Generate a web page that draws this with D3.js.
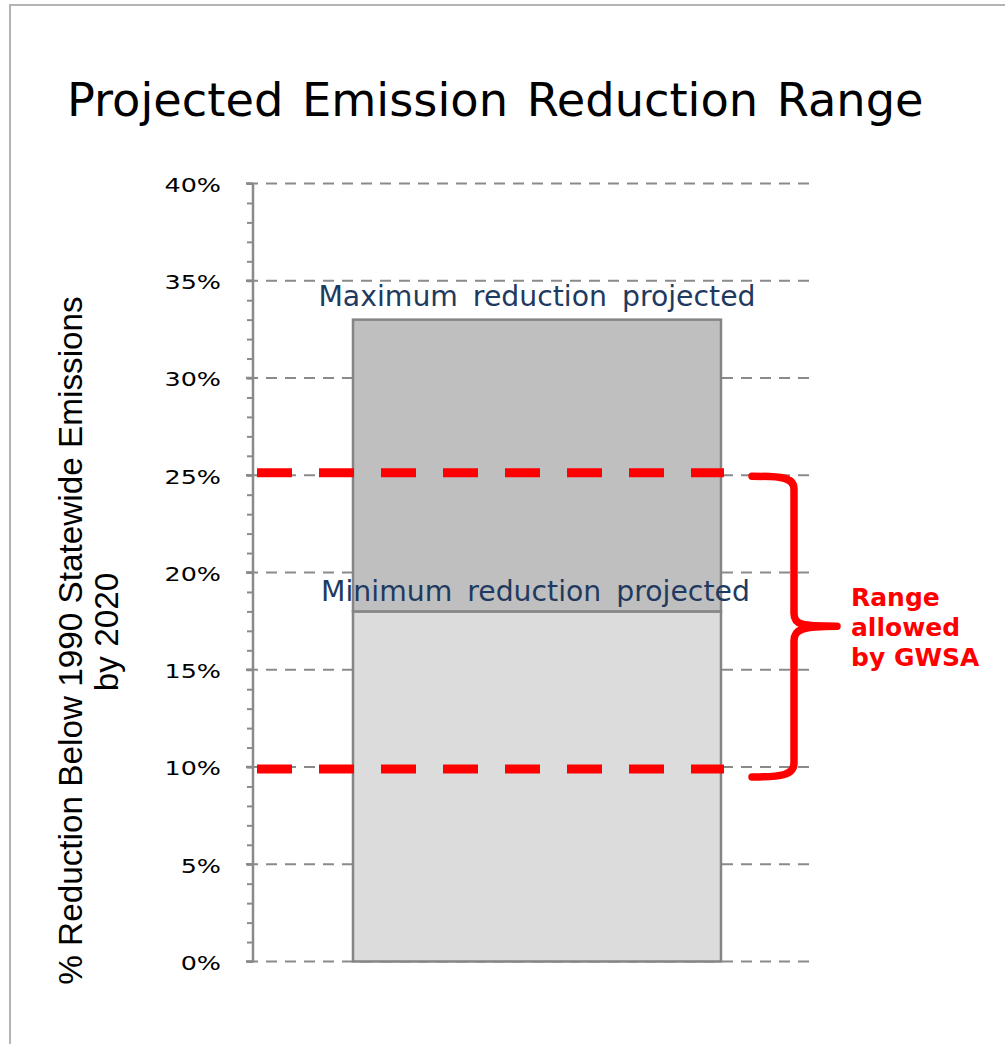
<!DOCTYPE html>
<html>
<head>
<meta charset="utf-8">
<script src="https://cdn.jsdelivr.net/npm/d3@7"></script>
<style>
  html, body { margin: 0; padding: 0; background: #fff; }
  svg { display: block; }
</style>
</head>
<body>
<script>
// ---- data ----
const category = ["2020"];
const minReduction = [18];   // % below 1990 levels, lower projection
const maxReduction = [33];   // % below 1990 levels, upper projection
const allowedRange = [10, 25]; // range allowed by GWSA
const tickValues = [0, 5, 10, 15, 20, 25, 30, 35, 40];
const tickLabels = ["0%", "5%", "10%", "15%", "20%", "25%", "30%", "35%", "40%"];
const barLabels = ["Minimum reduction projected", "Maximum reduction projected"];
const rangeLabel = ["Range", "allowed", "by GWSA"];
const titleText = "Projected Emission Reduction Range";
const yTitle = ["% Reduction Below 1990 Statewide Emissions", "by 2020"];

// ---- layout ----
const W = 1005, H = 1044;
const plot = { left: 253, right: 813, top: 183.5, bottom: 961.5 };

const svg = d3.select("body").append("svg")
  .attr("width", W).attr("height", H);

// outer frame
svg.append("rect")
  .attr("x", 10).attr("y", 5)
  .attr("width", W + 20).attr("height", H + 20)
  .attr("fill", "#fff")
  .attr("stroke", "#b4b4b4").attr("stroke-width", 2);

// title
svg.append("text")
  .attr("x", 67).attr("y", 116)
  .attr("font-family", "DejaVu Sans")
  .attr("font-size", 46.3)
  .attr("word-spacing", 4)
  .attr("fill", "#000")
  .text(titleText);

// scales
const y = d3.scaleLinear().domain([0, 40]).range([plot.bottom, plot.top]);
const x = d3.scaleBand().domain(category)
  .range([plot.left, plot.right])
  .paddingInner(0).paddingOuter(0.2609).align(0.5208);

// dashed gridlines
svg.append("g").selectAll("line")
  .data(tickValues)
  .join("line")
  .attr("x1", plot.left - 6).attr("x2", plot.right)
  .attr("y1", d => y(d)).attr("y2", d => y(d))
  .attr("stroke", "#8a8a8a").attr("stroke-width", 2)
  .attr("stroke-dasharray", "11,8");

// stacked bar: lower part (0 -> min), upper part (min -> max)
const segs = [
  { y0: 0, y1: minReduction[0], fill: "#dcdcdc" },
  { y0: minReduction[0], y1: maxReduction[0], fill: "#bfbfbf" }
];
svg.append("g").selectAll("rect")
  .data(segs)
  .join("rect")
  .attr("x", x(category[0]))
  .attr("width", x.bandwidth())
  .attr("y", d => y(d.y1))
  .attr("height", d => y(d.y0) - y(d.y1))
  .attr("fill", d => d.fill)
  .attr("stroke", "#858585").attr("stroke-width", 2.5);

// y axis with major and minor ticks
const axisG = svg.append("g").attr("transform", `translate(${plot.left},0)`);
axisG.call(d3.axisLeft(y).tickValues(d3.range(0, 41, 1)).tickSize(6).tickFormat(""))
  .call(g => g.select(".domain").remove())
  .call(g => g.selectAll(".tick line").attr("stroke", "#8a8a8a").attr("stroke-width", 2));
axisG.append("line")
  .attr("x1", 0).attr("x2", 0)
  .attr("y1", plot.top).attr("y2", plot.bottom + 1)
  .attr("stroke", "#8a8a8a").attr("stroke-width", 2.5);
axisG.append("g").selectAll("line")
  .data(tickValues)
  .join("line")
  .attr("x1", -7).attr("x2", 0)
  .attr("y1", d => y(d)).attr("y2", d => y(d))
  .attr("stroke", "#8a8a8a").attr("stroke-width", 2.5);

// tick labels (wide setting, stretched horizontally)
svg.append("g").selectAll("text")
  .data(tickValues)
  .join("text")
  .attr("transform", d => `translate(221,${y(d)}) scale(1.27,1)`)
  .attr("dy", "0.42em")
  .attr("text-anchor", "end")
  .attr("font-family", "DejaVu Sans")
  .attr("font-size", 20)
  .attr("fill", "#000")
  .text((d, i) => tickLabels[i]);

// y axis title (two lines, rotated)
const yt = svg.append("g");
yt.append("text")
  .attr("transform", `translate(82,640.5) rotate(-90)`)
  .attr("text-anchor", "middle")
  .attr("font-family", "Liberation Sans")
  .attr("font-size", 33.3)
  .attr("fill", "#000")
  .text(yTitle[0]);
yt.append("text")
  .attr("transform", `translate(118,632) rotate(-90)`)
  .attr("text-anchor", "middle")
  .attr("font-family", "Liberation Sans")
  .attr("font-size", 33.3)
  .attr("fill", "#000")
  .text(yTitle[1]);

// bar annotations
const cx = x(category[0]) + x.bandwidth() / 2;
svg.append("g").selectAll("text")
  .data([minReduction[0], maxReduction[0]])
  .join("text")
  .attr("x", (d, i) => cx + (i === 0 ? -1.5 : 0))
  .attr("y", (d, i) => y(d) - (i === 0 ? 10 : 13.5))
  .attr("text-anchor", "middle")
  .attr("font-family", "DejaVu Sans")
  .attr("font-size", 28.3)
  .attr("word-spacing", 6)
  .attr("fill", "#1f3a60")
  .text((d, i) => barLabels[i]);

// red dashed lines marking the allowed range
const redX0 = plot.left + 4, redX1 = x(category[0]) + x.bandwidth() + 3;
const redShift = [2, -2.5];
svg.append("g").selectAll("line")
  .data(allowedRange)
  .join("line")
  .attr("x1", redX0).attr("x2", redX1)
  .attr("y1", (d, i) => y(d) + redShift[i]).attr("y2", (d, i) => y(d) + redShift[i])
  .attr("stroke", "#ff0000").attr("stroke-width", 9)
  .attr("stroke-dasharray", "35,27");

// curly brace spanning the allowed range
const bTop = y(allowedRange[1]), bBot = y(allowedRange[0]);
const bMid = (bTop + bBot) / 2 + 8;
const bx0 = 752, bx1 = 794, bTip = 837;
const brace = d3.path();
brace.moveTo(bx0, bTop + 1);
brace.bezierCurveTo(bx0 + 30, bTop + 1, bx1, bTop + 2, bx1, bTop + 14);
brace.lineTo(bx1, bMid - 16);
brace.bezierCurveTo(bx1, bMid - 4, bx1 + 8, bMid - 3, bTip, bMid - 3);
brace.moveTo(bTip, bMid - 3);
brace.bezierCurveTo(bx1 + 8, bMid - 3, bx1, bMid, bx1, bMid + 12);
brace.lineTo(bx1, bBot - 4);
brace.bezierCurveTo(bx1, bBot + 8, bx0 + 30, bBot + 10, bx0, bBot + 10);
svg.append("path")
  .attr("d", brace.toString())
  .attr("fill", "none")
  .attr("stroke", "#ff0000").attr("stroke-width", 7.5)
  .attr("stroke-linecap", "round").attr("stroke-linejoin", "round");

// range label
svg.append("g").selectAll("text")
  .data(rangeLabel)
  .join("text")
  .attr("x", 851)
  .attr("y", (d, i) => 606 + i * 30)
  .attr("font-family", "DejaVu Sans")
  .attr("font-weight", "bold")
  .attr("font-size", 25)
  .attr("fill", "#ff0000")
  .text(d => d);
</script>
</body>
</html>
